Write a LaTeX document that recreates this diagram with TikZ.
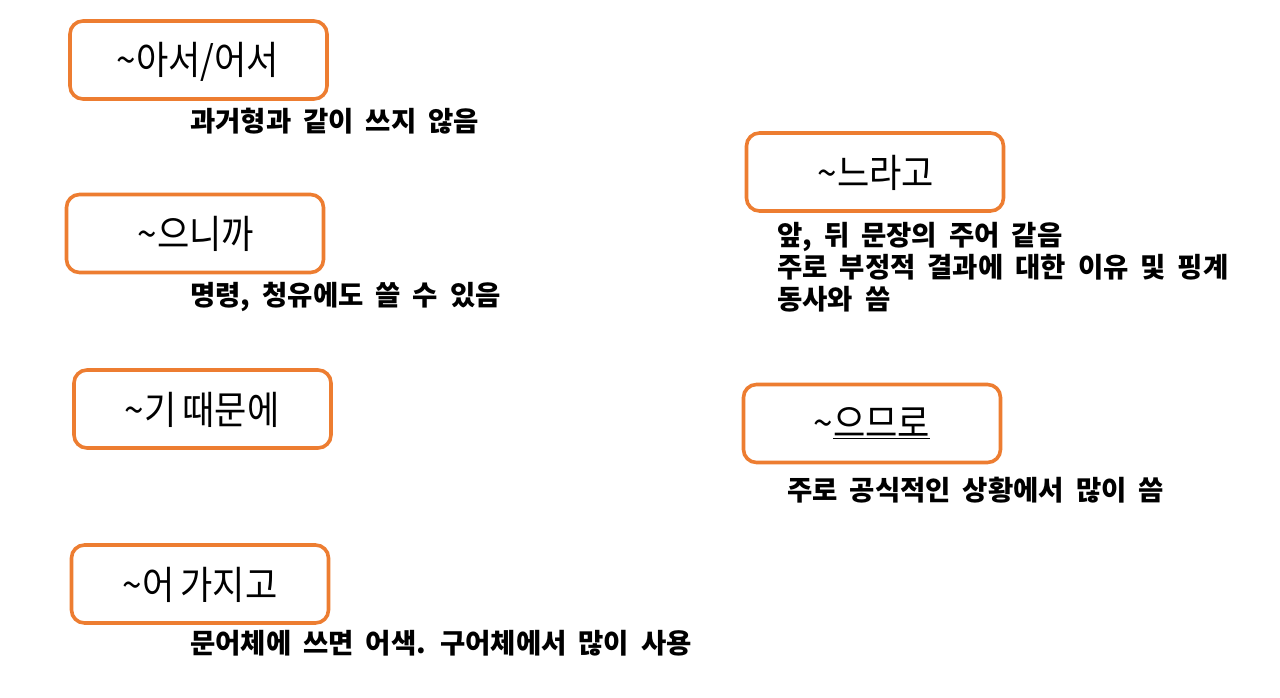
\documentclass[tikz,border=0pt]{standalone}
\usepackage{fontspec}
\newfontfamily\cjk[FakeStretch=0.9,WordSpace=0.8]{Noto Sans CJK KR}
\newfontfamily\cjkb[WordSpace=1.9]{Noto Sans CJK KR}
\definecolor{boxorange}{HTML}{ED7D31}
\begin{document}
\begin{tikzpicture}[x=1pt,y=-1pt,
  termbox/.style={draw=boxorange, line width=3.6pt, rounded corners=13pt, fill=white,
    minimum width=257pt, minimum height=78pt, inner sep=0pt},
  termtext/.style={anchor=base, inner sep=0pt, font=\cjk\fontsize{39}{44}\selectfont},
  note/.style={anchor=base west, inner sep=0pt, align=left,
    font=\cjkb\bfseries\fontsize{27.5}{32}\selectfont}]
\useasboundingbox (0,0) rectangle (1280,698);
\fill[white] (0,0) rectangle (1280,698);
% boxes
\node[termbox] (b1) at (198.5,60) {};
\node[termbox] (b2) at (195,233.5) {};
\node[termbox] (b3) at (202.5,409) {};
\node[termbox] (b4) at (200,584) {};
\node[termbox] (b5) at (875,172) {};
\node[termbox] (b6) at (872,423.5) {};
% box labels
\node[termtext] (t1) at (198,75) {\textasciitilde 아서/어서};
\node[termtext] (t2) at (196,248) {\textasciitilde 으니까};
\node[termtext] (t3) at (202,424) {\textasciitilde 기 때문에};
\node[termtext] (t4) at (200,599) {\textasciitilde 어 가지고};
\node[termtext] (t5) at (876,187) {\textasciitilde 느라고};
\node[termtext] (t6) at (872,437) {\textasciitilde\underline{으므로}};
% notes
\node[note] (n1) at (190,132) {과거형과 같이 쓰지 않음};
\node[note] (n2) at (190,305) {명령, 청유에도 쓸 수 있음};
\node[note] (n5) at (777,309) {앞, 뒤 문장의 주어 같음\\주로 부정적 결과에 대한 이유 및 핑계\\동사와 씀};
\node[note] (n6) at (787,500) {주로 공식적인 상황에서 많이 씀};
\node[note] (n4) at (190,653) {문어체에 쓰면 어색. 구어체에서 많이 사용};
\end{tikzpicture}
\end{document}
